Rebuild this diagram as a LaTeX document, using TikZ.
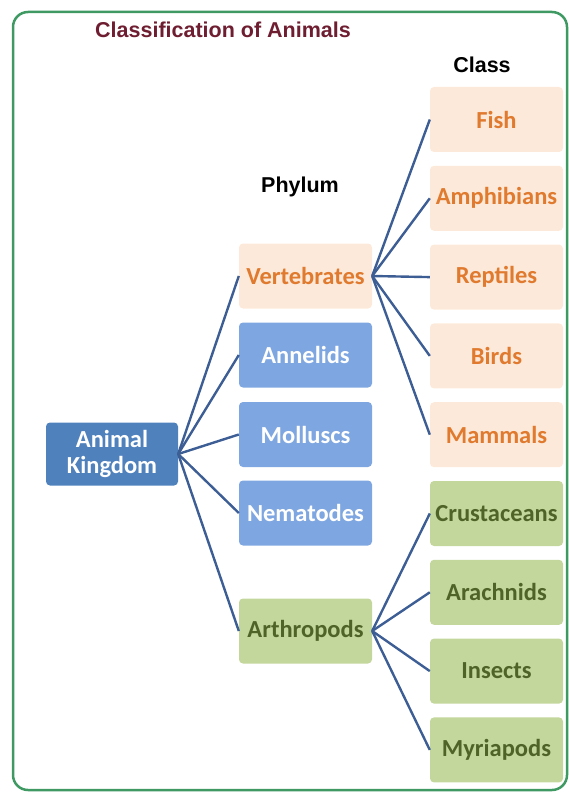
\documentclass[tikz,border=0pt]{standalone}
\usepackage{fontspec}
\setmainfont{Carlito}
\newfontfamily\headfont{Liberation Sans}
\definecolor{kingblue}{HTML}{4F81BD}
\definecolor{phylblue}{HTML}{7EA6E0}
\definecolor{vertfill}{HTML}{FDE9D9}
\definecolor{verttext}{HTML}{E07A2E}
\definecolor{arthfill}{HTML}{C3D69B}
\definecolor{arthtext}{HTML}{4F6228}
\definecolor{linkblue}{HTML}{3D5E94}
\definecolor{framegreen}{HTML}{3E9A62}
\definecolor{titlered}{HTML}{6E1E30}

\begin{document}
\begin{tikzpicture}[x=1pt,y=-1pt,
	box/.style={rounded corners=4pt,minimum width=133pt,minimum height=65pt,inner sep=0pt,align=center,font=\fontsize{24.5}{26}\selectfont\bfseries},
	kingbox/.style={box,fill=kingblue,text=white,minimum width=132pt,minimum height=63pt},
	phylbox/.style={box,fill=phylblue,text=white},
	vertbox/.style={box,fill=vertfill,text=verttext},
	arthbox/.style={box,fill=arthfill,text=arthtext},
	head/.style={font=\headfont\fontsize{21.5}{24}\selectfont\bfseries},
	link/.style={draw=linkblue,line width=2.4pt}]
	\useasboundingbox (0,0) rectangle (569,794);
	\draw[framegreen,line width=2.5pt,rounded corners=15pt] (13,12) rectangle (567,790);
	% headings
	\node[head,text=titlered] (title) at (223,30) {Classification of Animals};
	\node[head] (phylum) at (300,187) {Phylum};
	\node[head] (class) at (482,65) {Class};
	% kingdom and phyla
	\node[kingbox] (kingdom) at (112,454) {Animal\\Kingdom};
	\node[vertbox] (vert) at (305.5,276) {Vertebrates};
	\node[phylbox] (anne) at (305.5,355) {Annelids};
	\node[phylbox] (moll) at (305.5,434.5) {Molluscs};
	\node[phylbox] (nema) at (305.5,513) {Nematodes};
	\node[arthbox] (arth) at (305.5,631) {Arthropods};
	% classes
	\node[vertbox] (fish) at (496.5,119.5) {Fish};
	\node[vertbox] (amph) at (496.5,198.3) {Amphibians};
	\node[vertbox] (rept) at (496.5,277.1) {Reptiles};
	\node[vertbox] (bird) at (496.5,355.9) {Birds};
	\node[vertbox] (mamm) at (496.5,434.7) {Mammals};
	\node[arthbox] (crus) at (496.5,513.5) {Crustaceans};
	\node[arthbox] (arac) at (496.5,592.3) {Arachnids};
	\node[arthbox] (inse) at (496.5,671.1) {Insects};
	\node[arthbox] (myri) at (496.5,749.9) {Myriapods};
	% connectors
	\foreach \p in {vert,anne,moll,nema,arth}
		\draw[link] (kingdom.east) -- (\p.west);
	\foreach \c in {fish,amph,rept,bird,mamm}
		\draw[link] (vert.east) -- (\c.west);
	\foreach \c in {crus,arac,inse,myri}
		\draw[link] (arth.east) -- (\c.west);
\end{tikzpicture}
\end{document}
